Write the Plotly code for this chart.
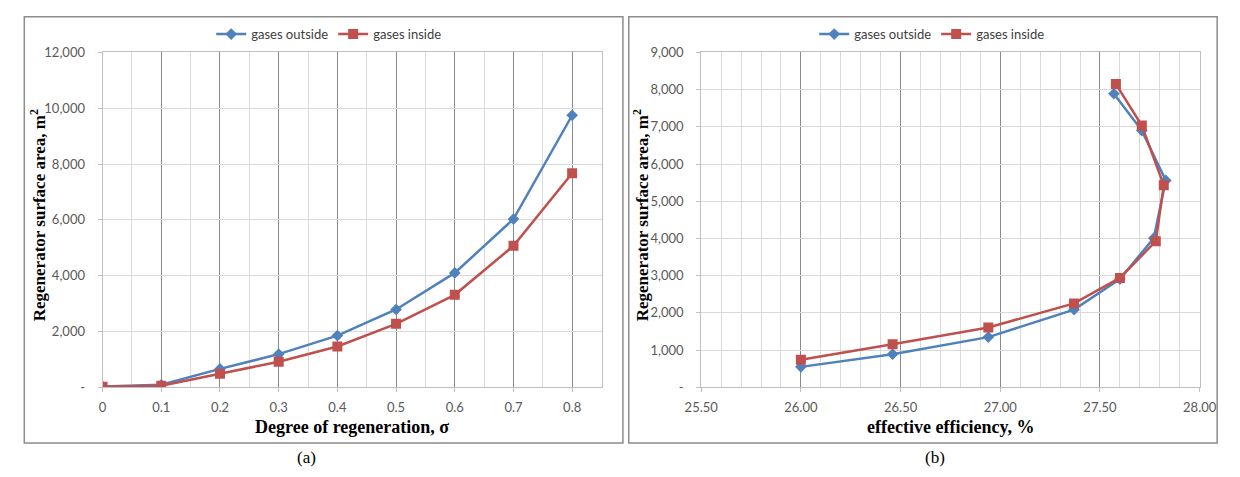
import plotly.graph_objects as go

# ---------------- data ----------------
sigma = [0, 0.1, 0.2, 0.3, 0.4, 0.5, 0.6, 0.7, 0.8]
area_outside_a = [30, 90, 660, 1190, 1855, 2790, 4100, 6030, 9750]
area_inside_a = [20, 60, 490, 915, 1465, 2275, 3315, 5070, 7670]

eff_outside = [26.00, 26.46, 26.94, 27.37, 27.60, 27.77, 27.83, 27.71, 27.57]
area_outside_b = [550, 890, 1350, 2090, 2910, 4010, 5560, 6900, 7890]
eff_inside = [26.00, 26.46, 26.94, 27.37, 27.60, 27.78, 27.82, 27.71, 27.58]
area_inside_b = [740, 1155, 1610, 2255, 2940, 3925, 5430, 7035, 8150]

series_names = ["gases outside", "gases inside"]

xticks_a = [0, 0.1, 0.2, 0.3, 0.4, 0.5, 0.6, 0.7, 0.8]
xticklabels_a = ["0", "0.1", "0.2", "0.3", "0.4", "0.5", "0.6", "0.7", "0.8"]
yticks_a = [0, 2000, 4000, 6000, 8000, 10000, 12000]
yticklabels_a = ["-", "2,000", "4,000", "6,000", "8,000", "10,000", "12,000"]

xticks_b = [25.5, 26.0, 26.5, 27.0, 27.5, 28.0]
xticklabels_b = ["25.50", "26.00", "26.50", "27.00", "27.50", "28.00"]
yticks_b = [0, 1000, 2000, 3000, 4000, 5000, 6000, 7000, 8000, 9000]
yticklabels_b = ["-", "1,000", "2,000", "3,000", "4,000", "5,000", "6,000", "7,000", "8,000", "9,000"]

x_title_a = "Degree of regeneration, σ"
x_title_b = "effective efficiency, %"
y_title = "Regenerator surface area, m<sup>2</sup>"
captions = ["(a)", "(b)"]

# ---------------- style ----------------
W, H = 1240, 477
BLUE = "#4F81BD"
RED = "#C0504D"
MAJOR = "#8a8a8a"
LIGHT = "#d9d9d9"
AXIS = "#bfbfbf"
SERIF = "Liberation Serif, Times New Roman, serif"
TICKFONT = dict(family="Lato, Liberation Sans, sans-serif", size=13, color="#595959")


def px_x(v):
    return v / W


def px_y(v):
    return 1 - v / H


fig = go.Figure()

fig.add_trace(go.Scatter(x=sigma, y=area_outside_a, name=series_names[0], mode="lines+markers",
                         line=dict(color=BLUE, width=2.5), marker=dict(symbol="diamond", size=9, color=BLUE),
                         xaxis="x", yaxis="y", legend="legend"))
fig.add_trace(go.Scatter(x=sigma, y=area_inside_a, name=series_names[1], mode="lines+markers",
                         line=dict(color=RED, width=2.5), marker=dict(symbol="square", size=10, color=RED),
                         xaxis="x", yaxis="y", legend="legend"))
fig.add_trace(go.Scatter(x=eff_outside, y=area_outside_b, name=series_names[0], mode="lines+markers",
                         line=dict(color=BLUE, width=2.5), marker=dict(symbol="diamond", size=9, color=BLUE),
                         xaxis="x2", yaxis="y2", legend="legend2"))
fig.add_trace(go.Scatter(x=eff_inside, y=area_inside_b, name=series_names[1], mode="lines+markers",
                         line=dict(color=RED, width=2.5), marker=dict(symbol="square", size=10, color=RED),
                         xaxis="x2", yaxis="y2", legend="legend2"))

common_x = dict(showline=True, linecolor=AXIS, linewidth=1, mirror=True, ticks="outside", ticklen=4,
                tickcolor=AXIS, zeroline=False, showgrid=True, gridcolor=MAJOR, gridwidth=1,
                tickfont=TICKFONT, ticklabelstandoff=4, fixedrange=True)
common_y = dict(showline=True, linecolor=AXIS, linewidth=1, mirror=True, ticks="outside", ticklen=4,
                tickcolor=AXIS, zeroline=False, showgrid=True, gridcolor=LIGHT, gridwidth=1,
                tickfont=TICKFONT, ticklabelstandoff=10, fixedrange=True)

fig.update_layout(
    width=W, height=H, autosize=False,
    margin=dict(l=0, r=0, t=0, b=0),
    paper_bgcolor="white", plot_bgcolor="white",
    xaxis=dict(domain=[px_x(88), px_x(601)], range=[0, 0.85], tickmode="array", tickvals=xticks_a,
               ticktext=xticklabels_a, anchor="y",
               minor=dict(tick0=0, dtick=0.05, showgrid=True, gridcolor=LIGHT, gridwidth=1), **common_x),
    yaxis=dict(domain=[px_y(392.5), px_y(46)], range=[0, 12000], tickmode="array", tickvals=yticks_a,
               ticktext=yticklabels_a, anchor="x", **common_y),
    xaxis2=dict(domain=[px_x(703.5), px_x(1216)], range=[25.5, 28.0], tickmode="array", tickvals=xticks_b,
                ticktext=xticklabels_b, anchor="y2",
                minor=dict(tick0=25.5, dtick=0.1, showgrid=True, gridcolor=LIGHT, gridwidth=1), **common_x),
    yaxis2=dict(domain=[px_y(392.5), px_y(46)], range=[0, 9000], tickmode="array", tickvals=yticks_b,
                ticktext=yticklabels_b, anchor="x2", **common_y),
    legend=dict(orientation="h", x=px_x(321), xanchor="center", y=px_y(27), yanchor="middle",
                font=dict(family=TICKFONT["family"], size=13, color="#404040"),
                bgcolor="rgba(0,0,0,0)", itemwidth=30, tracegroupgap=0),
    legend2=dict(orientation="h", x=px_x(941), xanchor="center", y=px_y(27), yanchor="middle",
                 font=dict(family=TICKFONT["family"], size=13, color="#404040"),
                 bgcolor="rgba(0,0,0,0)", itemwidth=30, tracegroupgap=0),
    showlegend=True,
)

# panel borders
for x0, x1 in [(7.5, 623), (629, 1234)]:
    fig.add_shape(type="rect", xref="paper", yref="paper", x0=px_x(x0), x1=px_x(x1),
                  y0=px_y(450), y1=px_y(9), line=dict(color="#8c8c8c", width=1.5), layer="below")

# axis titles and captions
titles = [
    (x_title_a, 344, 434, 0, 18),
    (x_title_b, 960, 434, 0, 18),
    (y_title, 21, 214, -90, 17),
    (y_title, 641, 214, -90, 17),
]
for text, tx, ty, ang, size in titles:
    fig.add_annotation(xref="paper", yref="paper", xanchor="center", yanchor="middle", showarrow=False,
                       font=dict(family=SERIF, size=size, color="#000000"), text="<b>" + text + "</b>",
                       x=px_x(tx), y=px_y(ty), textangle=ang)
for cap, cx in zip(captions, [298, 944]):
    fig.add_annotation(xref="paper", yref="paper", xanchor="center", yanchor="middle", showarrow=False,
                       font=dict(family=SERIF, size=17, color="#000000"), text=cap,
                       x=px_x(cx), y=px_y(465))

fig.write_html("out.html", config={"displayModeBar": False, "staticPlot": True},
               post_script="document.body.style.margin='0px';")
